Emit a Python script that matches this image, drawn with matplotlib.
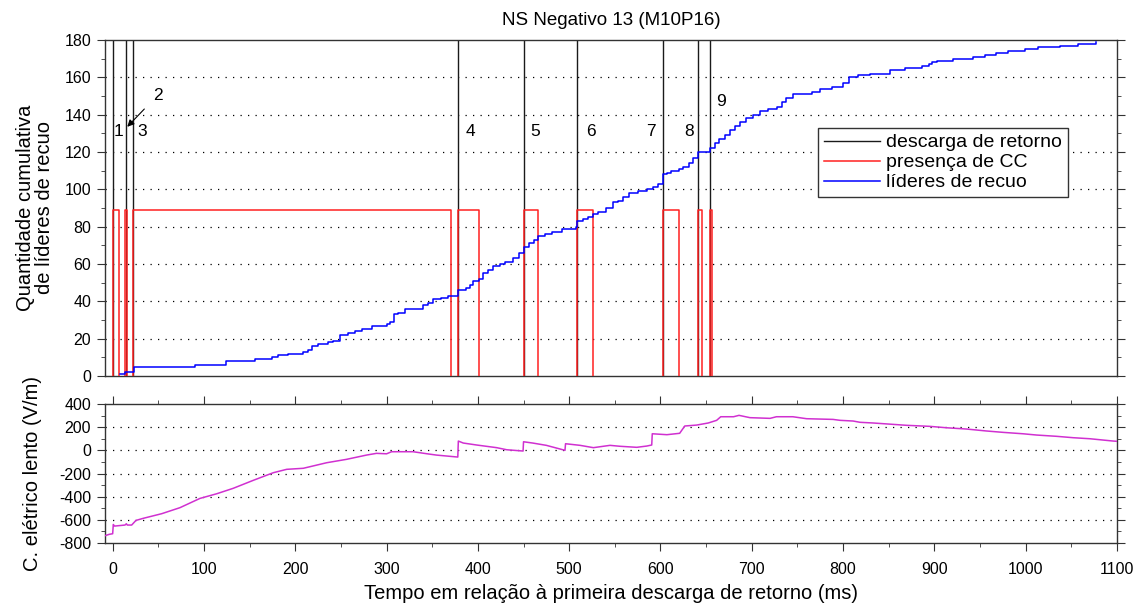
import matplotlib
matplotlib.use("Agg")
import matplotlib.pyplot as plt
from matplotlib.ticker import MultipleLocator
from matplotlib.lines import Line2D

plt.rcParams['font.family'] = ['Liberation Sans', 'DejaVu Sans']
plt.rcParams['axes.unicode_minus'] = False

# ---------------- data ----------------
stroke_times = [0, 14.6, 22.6, 378.6, 450, 508.5, 602.7, 641.4, 653.9]
stroke_labels = ["1", "2", "3", "4", "5", "6", "7", "8", "9"]
cc_start = [0, 13.8, 22.6, 377.8, 450, 508.5, 602.7, 641.4, 654.0]
cc_end = [7.3, 16.0, 371.0, 401.6, 465.5, 525.7, 620.0, 645.8, 656.0]
cc_level = 89

bl_t = [8, 13.5, 23.7, 90, 123.7, 156, 175, 180.6, 191.6, 209, 214, 218, 225,
        235.5, 241.6, 249, 258, 265, 273, 283.7, 300, 304, 308.5, 312, 320,
        340, 345.6, 351, 360, 367.6, 378.5, 387, 391, 395, 401, 406, 411, 417,
        424, 429.5, 438.8, 445, 450.5, 456, 461, 466, 473.5, 481, 492, 508,
        509, 515, 521, 526.5, 532, 540, 548, 554, 558.5, 566, 575.7, 585, 592,
        597.5, 603, 607, 612, 620, 625, 631.5, 636, 641.4, 654, 660, 664,
        670.6, 676, 682, 687, 694, 701.6, 709, 718, 728, 732.6, 738, 744.7,
        765.6, 775, 787.5, 800, 806, 816.6, 829.5, 851.5, 867.8, 886, 894, 897,
        902.6, 920, 942.6, 955.4, 968, 981, 999, 1014, 1037.6, 1057.6, 1077]
bl_n = [1, 2, 5, 6, 8, 9, 10, 11, 12, 13, 14, 16, 17,
        18, 19, 22, 23, 24, 25, 27, 28, 29, 33, 34, 36,
        38, 39, 41, 42, 43, 46, 47, 49, 51, 52, 55, 57, 59,
        60, 61, 63, 66, 69, 71, 73, 75, 76, 77, 79, 80,
        83, 84, 85, 87, 88, 90, 93, 94, 96, 98, 99, 100, 101,
        103, 108, 109, 110, 111, 112, 114, 117, 120, 122, 125, 127,
        129, 132, 134, 136, 138, 140, 142, 143, 144, 147, 149, 151,
        152, 154, 155, 157, 160, 161, 162, 164, 165, 166, 167, 168,
        169, 170, 171, 172, 173, 174, 175, 176, 177, 178, 179]

ef_t = [-8.4, -3.7, 0, 0.7, 2, 13.5, 15, 16, 20.8, 25.5, 33.5, 53.7, 73.7,
        95.6, 113.9, 132, 154, 176, 190.6, 208.8, 234.4, 256, 278, 289, 300,
        305.5, 329, 343.7, 354.6, 378, 378.6, 384, 398.6, 420.6, 431.6, 449.5,
        450, 460, 475, 495.4, 496, 512, 526.5, 544.7, 555.6, 574, 585, 590.4,
        591, 607, 621, 626.6, 639.5, 652.3, 661.5, 666, 680, 686, 698, 720,
        727, 745, 760, 789, 796.6, 811, 818.5, 833, 855, 869.5, 895, 913, 935,
        957, 975.5, 997, 1012, 1033.8, 1052, 1070.4, 1096, 1100]
ef_v = [-737, -725, -720, -640, -654, -645, -634, -645, -645, -605, -587, -547,
        -495, -415, -375, -328, -259, -193, -164, -155, -107, -78, -41, -26,
        -30, -12, -12, -29, -41, -58, 80, 63, 46, 23, 5, -6, 74, 63, 43, 0, 57,
        43, 23, 43, 35, 26, 37, 46, 143, 135, 147, 210, 218, 236, 259, 290,
        290, 302, 282, 276, 290, 290, 273, 267, 259, 253, 242, 236, 224, 216,
        207, 195, 184, 167, 155, 143, 132, 121, 109, 100, 80, 78]

title = "NS Negativo 13 (M10P16)"
ylabel_top = "Quantidade cumulativa\nde líderes de recuo"
ylabel_bot = "C. elétrico lento (V/m)"
xlabel = "Tempo em relação à primeira descarga de retorno (ms)"
legend_labels = ["descarga de retorno", "presença de CC", "líderes de recuo"]

# ---------------- figure ----------------
W, H = 1140, 608
fig = plt.figure(figsize=(W / 100, H / 100), dpi=100)

def frac(l, t, r, b):
    return [l / W, 1 - b / H, (r - l) / W, (b - t) / H]

ax1 = fig.add_axes(frac(105, 40, 1117, 376))
ax2 = fig.add_axes(frac(105, 404, 1117, 543))

spine_col = '#333333'
tick_family = ['Liberation Sans Narrow', 'Liberation Sans']
tick_size = 11.5
label_size = 14.5
grid_kw = dict(color='black', linestyle=(0, (1, 5)), linewidth=0.9)

xlim = (-8.4, 1100)

# top panel
for t in stroke_times:
    ax1.axvline(t, color='#1a1a1a', linewidth=1.0, zorder=2)
for s, e in zip(cc_start, cc_end):
    ax1.plot([s, s, e, e], [0, cc_level, cc_level, 0], color='#ff2020',
             linewidth=1.1, zorder=3)
ax1.plot(bl_t, bl_n, drawstyle='steps-post', color='#0000ff', linewidth=1.1,
         zorder=4)
ax1.set_xlim(*xlim)
ax1.set_ylim(0, 180)
ax1.yaxis.set_major_locator(MultipleLocator(20))
ax1.yaxis.set_minor_locator(MultipleLocator(10))
ax1.set_xticks([])
ax1.tick_params(axis='y', which='both', direction='out', left=True, right=True,
                colors=spine_col, labelcolor='black')
ax1.tick_params(axis='y', which='major', length=6, pad=4)
ax1.tick_params(axis='y', which='minor', length=3)
for lab in ax1.get_yticklabels():
    lab.set_fontfamily(tick_family)
    lab.set_fontsize(tick_size)
for yv in range(20, 180, 20):
    ax1.axhline(yv, zorder=1, **grid_kw)
ax1.set_ylabel(ylabel_top, fontsize=label_size, linespacing=1.0)
ax1.set_title(title, fontsize=13.5, pad=11)

# stroke number annotations
num_pos = {"1": (6, 131), "3": (31.8, 131), "4": (392, 131), "5": (462.5, 131),
           "6": (524, 131), "7": (589.5, 131), "8": (631, 131), "9": (666, 147)}
for k, (x, y) in num_pos.items():
    ax1.text(x, y, k, ha='center', va='center', fontsize=12.5)
ax1.annotate("2", xy=(16, 133.5), xytext=(49.3, 150.5), ha='center',
             va='center', fontsize=12.5,
             arrowprops=dict(arrowstyle='-|>', color='black', lw=0.8,
                             shrinkA=6, shrinkB=0, mutation_scale=10))

handles = [Line2D([], [], color='#1a1a1a', lw=1.0),
           Line2D([], [], color='#ff2020', lw=1.1),
           Line2D([], [], color='#0000ff', lw=1.1)]
leg = ax1.legend(handles, legend_labels, loc='upper left',
                 bbox_to_anchor=((818 - 105) / 1012, (376 - 128) / 336),
                 borderaxespad=0, fontsize=14, handlelength=2.9,
                 handletextpad=0.3, labelspacing=0.12, borderpad=0.3,
                 fancybox=False, framealpha=1)
leg.get_frame().set_edgecolor('#333333')
leg.get_frame().set_linewidth(1.0)

# bottom panel
ax2.plot(ef_t, ef_v, color='#d030d0', linewidth=1.1, zorder=3)
ax2.set_xlim(*xlim)
ax2.set_ylim(-800, 400)
ax2.xaxis.set_major_locator(MultipleLocator(100))
ax2.xaxis.set_minor_locator(MultipleLocator(50))
ax2.yaxis.set_major_locator(MultipleLocator(200))
ax2.yaxis.set_minor_locator(MultipleLocator(100))
ax2.tick_params(which='both', direction='out', top=True, right=True,
                colors=spine_col, labelcolor='black')
ax2.tick_params(which='major', length=6)
ax2.tick_params(which='minor', length=3)
ax2.tick_params(axis='x', which='major', pad=8)
ax2.tick_params(axis='y', which='major', pad=4)
for lab in ax2.get_xticklabels() + ax2.get_yticklabels():
    lab.set_fontfamily(tick_family)
    lab.set_fontsize(tick_size)
for yv in range(-600, 400, 200):
    ax2.axhline(yv, zorder=1, **grid_kw)
ax2.set_ylabel(ylabel_bot, fontsize=label_size)
ax2.set_xlabel(xlabel, fontsize=label_size, labelpad=5)

for ax in (ax1, ax2):
    for sp in ax.spines.values():
        sp.set_color(spine_col)
        sp.set_linewidth(1.0)

# y label positions (right edge of the rotated text block)
ax1.yaxis.set_label_coords((54 - 105) / 1012, 0.5)
ax2.yaxis.set_label_coords((42 - 105) / 1012, 0.5)

fig.savefig("out.png", dpi=100)
